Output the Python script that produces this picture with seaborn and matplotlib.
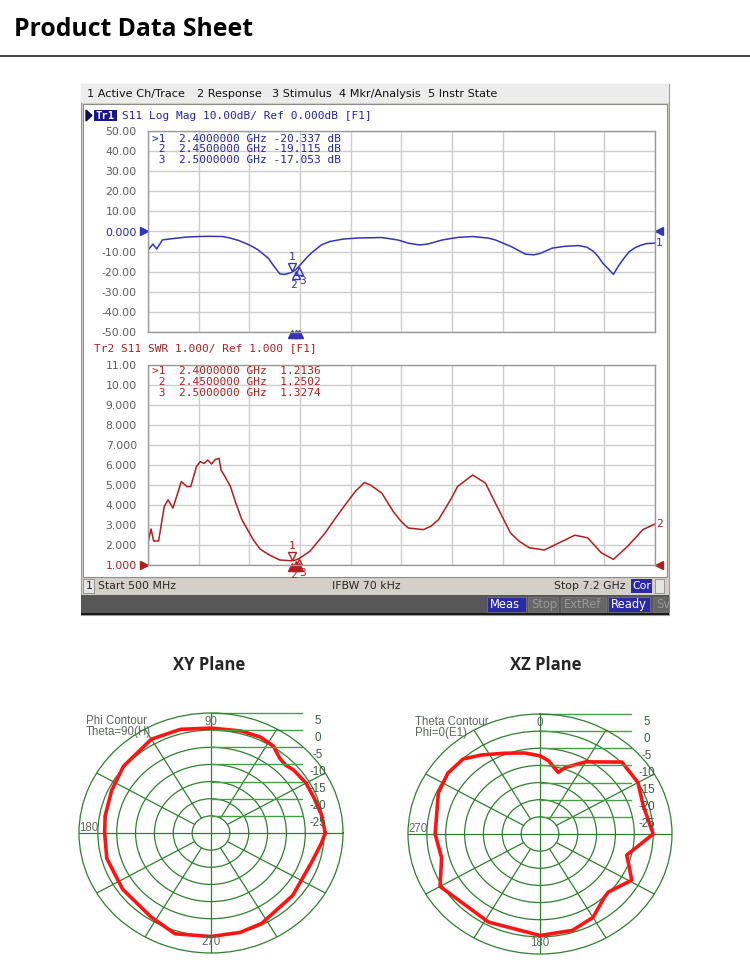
import numpy as np
import seaborn as sns
import matplotlib.pyplot as plt
import matplotlib.transforms as mtransforms
from matplotlib.patches import Rectangle, Polygon

sns.set_theme(style="white")
plt.rcParams['font.family'] = ['Liberation Sans', 'DejaVu Sans']

W, H = 750, 972

# ---- S11 log magnitude trace (GHz, dB) ----
s11_ghz = [0.50, 0.565, 0.615, 0.69, 0.79, 1.00, 1.165, 1.30, 1.49, 1.59, 1.70, 1.84,
           1.95, 2.09, 2.15, 2.24, 2.30, 2.36, 2.40, 2.45, 2.50, 2.59, 2.65, 2.79,
           2.90, 3.09, 3.30, 3.59, 3.80, 3.94, 4.09, 4.20, 4.39, 4.60, 4.79, 5.00,
           5.09, 5.30, 5.49, 5.60, 5.69, 5.84, 6.00, 6.19, 6.30, 6.39, 6.45, 6.51,
           6.58, 6.65, 6.72, 6.79, 6.86, 6.94, 7.00, 7.09, 7.20]
s11_db = [-9.2, -6.3, -8.7, -4.2, -3.7, -2.8, -2.5, -2.4, -2.5, -3.3, -4.5, -6.7,
          -9.0, -13.3, -16.5, -21.0, -21.4, -20.8, -20.3, -19.1, -17.1, -13.3, -11.0,
          -6.7, -5.0, -3.7, -3.2, -3.0, -4.2, -5.8, -6.7, -6.2, -4.2, -2.9, -2.5,
          -3.3, -4.2, -7.5, -11.3, -11.6, -10.8, -8.3, -7.4, -7.0, -7.8, -10.0,
          -12.5, -15.8, -18.5, -21.3, -17.0, -13.3, -10.0, -8.0, -7.0, -6.0, -5.8]

# ---- SWR trace (GHz, ratio) ----
swr_ghz = [0.50, 0.54, 0.575, 0.64, 0.715, 0.765, 0.83, 0.94, 1.015, 1.065, 1.14, 1.19,
           1.24, 1.29, 1.34, 1.39, 1.44, 1.465, 1.52, 1.59, 1.66, 1.74, 1.89, 1.98,
           2.09, 2.24, 2.40, 2.45, 2.50, 2.64, 2.84, 2.96, 3.09, 3.24, 3.36, 3.44,
           3.59, 3.74, 3.84, 3.94, 4.14, 4.24, 4.34, 4.51, 4.59, 4.79, 4.96, 5.09,
           5.29, 5.40, 5.54, 5.74, 5.89, 6.14, 6.31, 6.49, 6.65, 6.84, 7.04, 7.20]
swr_val = [2.11, 2.80, 2.20, 2.20, 3.93, 4.26, 3.85, 5.17, 4.92, 4.92, 5.92, 6.17,
           6.08, 6.25, 6.05, 6.28, 6.33, 5.75, 5.40, 4.92, 4.10, 3.27, 2.27, 1.80,
           1.53, 1.25, 1.21, 1.25, 1.33, 1.69, 2.60, 3.25, 3.93, 4.68, 5.12, 5.00,
           4.59, 3.68, 3.20, 2.85, 2.77, 2.94, 3.27, 4.34, 4.92, 5.50, 5.09, 4.10,
           2.60, 2.20, 1.86, 1.75, 2.03, 2.49, 2.36, 1.61, 1.28, 1.94, 2.77, 3.05]

marker_ghz = [2.40, 2.45, 2.50]
marker_db = [-20.337, -19.115, -17.053]
marker_swr = [1.2136, 1.2502, 1.3274]

s11_ticks = [50, 40, 30, 20, 10, 0, -10, -20, -30, -40, -50]
s11_ticklabels = ["50.00", "40.00", "30.00", "20.00", "10.00", "0.000",
                  "-10.00", "-20.00", "-30.00", "-40.00", "-50.00"]
swr_ticks = [11, 10, 9, 8, 7, 6, 5, 4, 3, 2, 1]
swr_ticklabels = ["11.00", "10.00", "9.000", "8.000", "7.000", "6.000",
                  "5.000", "4.000", "3.000", "2.000", "1.000"]

# ---- radiation patterns (deg, dB) ----
xy_phi = [0, 10, 20, 30, 40, 45, 50, 57, 65, 75, 90, 105, 120, 140, 155, 170, 180,
          195, 215, 237, 252, 270, 285, 297, 320, 342, 354, 360]
xy_db = [0.3, -0.2, -0.8, -0.9, -1.4, -2.0, -1.6, 0.3, 0.9, 0.8, 0.6, 1.3, 1.6, 0.3,
         -0.9, -1.5, -1.8, -1.4, -1.4, -0.8, 0.9, 0.2, 0.0, -0.4, -1.7, -2.0, -0.6, 0.3]
xz_theta = [0, 6, 15, 19, 30, 46, 60, 73, 90, 105, 112, 119, 133, 137, 150, 163, 180,
            208, 240, 255, 270, 294, 306, 317, 326, 338, 350, 360]
xz_db = [-7.2, -8.5, -11.4, -9.5, -5.7, 0.2, 0.0, -1.4, 0.0, -6.2, -4.5, -2.2, -5.2,
         -4.9, -1.9, -0.6, -0.4, -0.9, 0.6, -3.0, -2.2, -0.5, 0.2, -0.1, -2.2, -4.6,
         -6.0, -7.2]
ring_levels = [5, 0, -5, -10, -15, -20, -25]

BLUE = "#3434b4"
BLUE_TXT = "#2424a4"
RED = "#b11e1e"
GRID = "#cdcdcd"
RING = "#2f7f2f"
SCALE = "#45a045"
MONO = "DejaVu Sans Mono"

fig = plt.figure(figsize=(W / 100, H / 100), dpi=100)


def fx(px):
    return px / W


def fy(py):
    return 1 - py / H


def box(x0, y0, x1, y1, z=-5, **kw):
    # window decoration, kept under the axes
    fig.add_artist(Rectangle((fx(x0), fy(y1)), (x1 - x0) / W, (y1 - y0) / H,
                             transform=fig.transFigure, zorder=z, **kw))


def ftext(x, y, s, **kw):
    fig.text(fx(x), fy(y), s, **kw)


# page title
ftext(14, 30, "Product Data Sheet", fontsize=17.8, fontweight="bold",
      family=["Open Sans", "DejaVu Sans"], va="center", color="black")
fig.add_artist(plt.Line2D([0, 1], [fy(56), fy(56)], transform=fig.transFigure,
                          color="#222222", lw=1.2))

# ---- analyzer window frame ----
box(81, 84, 669, 615, facecolor="#d4d0c8", edgecolor="#9a9a9a", lw=0.8, z=-10)
box(81, 84, 669, 103, facecolor="#ececec", edgecolor="none", z=-9)
menu = [(87, "1 Active Ch/Trace"), (197, "2 Response"), (272, "3 Stimulus"),
        (339, "4 Mkr/Analysis"), (428, "5 Instr State")]
for mx, label in menu:
    ftext(mx, 94, label, fontsize=8.1, va="center", color="#111111",
          family=["DejaVu Sans"])
box(83, 104, 667, 577, facecolor="white", edgecolor="#8c8c8c", lw=0.8, z=-9)

# status bar
box(83, 579, 94, 593, facecolor="#e4e4e4", edgecolor="#8c8c8c", lw=0.6)
ftext(86, 586, "1", fontsize=7.8, va="center", family=["DejaVu Sans"])
ftext(98, 586, "Start 500 MHz", fontsize=7.8, va="center", family=["DejaVu Sans"])
ftext(332, 586, "IFBW 70 kHz", fontsize=7.8, va="center", family=["DejaVu Sans"])
ftext(626, 586, "Stop 7.2 GHz", fontsize=7.8, va="center", ha="right",
      family=["DejaVu Sans"])
box(631, 579, 652, 593, facecolor="#2a2aa8", edgecolor="none")
ftext(641.5, 586, "Cor", fontsize=7.8, va="center", ha="center", color="white",
      family=["DejaVu Sans"])
box(655, 579, 664, 593, facecolor="#e4e4e4", edgecolor="#8c8c8c", lw=0.6)

# lower dark bar
box(81, 595, 669, 613, facecolor="#575757", edgecolor="none")
box(81, 613, 669, 615, facecolor="#1a1a1a", edgecolor="none")
buttons = [(487, 526, "Meas", True), (528, 558, "Stop", False),
           (561, 606, "ExtRef", False), (608, 650, "Ready", True), (653, 669, "Sv", False)]
for bx0, bx1, label, on in buttons:
    box(bx0, 597, bx1, 612, facecolor="#2a2aa8" if on else "#666666",
        edgecolor="#7a7a7a", lw=0.5, z=-4)
    ftext(bx0 + 3, 604.5, label, fontsize=8.3, va="center",
          color="white" if on else "#999999", family=["DejaVu Sans"])

# trace headers
fig.add_artist(Polygon([[fx(86), fy(110)], [fx(86), fy(121)], [fx(92), fy(115.5)]],
                       closed=True, transform=fig.transFigure, color="#101050"))
box(94, 110, 117, 121, facecolor="#16168a", edgecolor="none")
ftext(105.5, 115.8, "Tr1", fontsize=7.6, va="center", ha="center", color="white",
      fontweight="bold", family=[MONO])
ftext(122, 116, "S11 Log Mag 10.00dB/ Ref 0.000dB [F1]", fontsize=8, va="center",
      color=BLUE_TXT, family=[MONO])
ftext(94, 348, "Tr2 S11 SWR 1.000/ Ref 1.000 [F1]", fontsize=8, va="center",
      color=RED, family=[MONO])

vgrid = [0.5 + 0.67 * i for i in range(11)]


def vna_axes(top, bottom, ylim, ticks, ticklabels, ref_index, color):
    ax = fig.add_axes([fx(148), fy(bottom), 507 / W, (bottom - top) / H])
    ax.set_xlim(0.5, 7.2)
    ax.set_ylim(*ylim)
    ax.set_xticks(vgrid)
    ax.set_xticklabels([])
    ax.set_yticks(ticks)
    ax.set_yticklabels(ticklabels, family=["DejaVu Sans"], fontsize=7.8)
    ax.tick_params(length=0, pad=8, colors="#5c5c5c")
    for i, lab in enumerate(ax.get_yticklabels()):
        if i == ref_index:
            lab.set_color(color)
    ax.grid(True, color=GRID, lw=1)
    for sp in ax.spines.values():
        sp.set_color("#9a9a9a")
        sp.set_linewidth(1)
    return ax


def offset(trans, dx=0, dy=0):
    return mtransforms.offset_copy(trans, fig=fig, x=dx, y=dy, units="dots")


def decorate(ax, values, ref_val, end_val, end_label, color):
    # marker 1 above the trace, markers 2 and 3 below it
    ax.plot(marker_ghz[0], values[0], marker="v", ms=6, mfc="none", mec=color,
            mew=1, transform=offset(ax.transData, 0, 5))
    ax.text(marker_ghz[0], values[0], "1", color=color, fontsize=8, ha="center",
            va="center", family=[MONO], transform=offset(ax.transData, 0, 15))
    for gx, val, lab, dx in zip(marker_ghz[1:], values[1:], ["2", "3"], [-2, 3]):
        ax.plot(gx, val, marker="^", ms=6, mfc="none", mec=color, mew=1,
                transform=offset(ax.transData, 0, -5))
        ax.text(gx, val, lab, color=color, fontsize=8, ha="center", va="center",
                family=[MONO], transform=offset(ax.transData, dx, -15))
    ax.plot(marker_ghz, [0, 0, 0], ls="none", marker="^", ms=6, color=color,
            transform=offset(ax.get_xaxis_transform(), 0, -2), clip_on=False)
    ax.plot([0], [ref_val], marker=">", ms=6, color=color, clip_on=False,
            transform=offset(ax.get_yaxis_transform(), -4, 0))
    ax.plot([1], [ref_val], marker="<", ms=6, color=color, clip_on=False,
            transform=offset(ax.get_yaxis_transform(), 4, 0))
    ax.text(1, end_val, end_label, color=color, fontsize=8, va="center",
            family=[MONO], transform=offset(ax.get_yaxis_transform(), 1, 0))


# ---- S11 log mag ----
ax1 = vna_axes(131, 332, (-50, 50), s11_ticks, s11_ticklabels, 5, BLUE_TXT)
sns.lineplot(x=s11_ghz, y=s11_db, ax=ax1, color=BLUE, lw=1.1, sort=False,
             estimator=None)
ax1.set_xlim(0.5, 7.2)
ax1.set_ylim(-50, 50)
decorate(ax1, marker_db, 0, s11_db[-1], "1", BLUE)
for i, (g, v) in enumerate(zip(marker_ghz, marker_db)):
    pre = ">1" if i == 0 else f" {i + 1}"
    ax1.text(0.008, 0.962 - i * 0.053, f"{pre}  {g:.7f} GHz {v:.3f} dB",
             transform=ax1.transAxes, fontsize=8, family=[MONO], color=BLUE_TXT,
             va="center")

# ---- SWR ----
ax2 = vna_axes(365, 565, (1, 11), swr_ticks, swr_ticklabels, 10, RED)
sns.lineplot(x=swr_ghz, y=swr_val, ax=ax2, color=RED, lw=1.1, sort=False,
             estimator=None)
ax2.set_xlim(0.5, 7.2)
ax2.set_ylim(1, 11)
decorate(ax2, marker_swr, 1, swr_val[-1], "2", RED)
for i, (g, v) in enumerate(zip(marker_ghz, marker_swr)):
    pre = ">1" if i == 0 else f" {i + 1}"
    ax2.text(0.008, 0.972 - i * 0.055, f"{pre}  {g:.7f} GHz  {v:.4f}",
             transform=ax2.transAxes, fontsize=8, family=[MONO], color=RED,
             va="center")


# ---- radiation patterns ----
def polar_panel(cx, cy, ang, db, zero, direction, note, angle_labels):
    rx, ry = 132, 120
    ax = fig.add_axes([fx(cx - rx), fy(cy + ry), 2 * rx / W, 2 * ry / H],
                      projection="polar")
    ax.set_theta_zero_location(zero)
    ax.set_theta_direction(direction)
    ax.set_facecolor("white")
    for a in range(0, 360, 30):
        r0 = -30 if a % 90 == 0 else -25
        ax.plot(np.radians([a, a]), [r0, 5], color=RING, lw=0.9)
    sns.lineplot(x=np.radians(ang), y=db, ax=ax, color="#ff1414", lw=2.6,
                 sort=False, estimator=None)
    ax.set_aspect("auto")
    ax.set_ylim(-30, 5)
    ax.set_yticks(ring_levels[1:])
    ax.set_yticklabels([])
    ax.set_xticks([])
    ax.yaxis.grid(True, color=RING, lw=0.9)
    ax.spines["polar"].set_color(RING)
    ax.spines["polar"].set_linewidth(0.9)
    ax.set_xlabel("")
    ax.set_ylabel("")
    for lvl in ring_levels:
        yy = 0.5 + 0.5 * (lvl + 30) / 35
        ax.plot([0.5, 0.845], [yy, yy], transform=ax.transAxes, color=SCALE,
                lw=1, clip_on=False)
        ax.text(0.905, yy - 7.5 / (2 * ry), str(lvl), transform=ax.transAxes,
                ha="center", va="center", fontsize=8.3, color="#3e5a3e")
    ftext(cx - 125, cy - 112, note[0], fontsize=8.3, color="#5f665f", va="center")
    ftext(cx - 125, cy - 101, note[1], fontsize=8.3, color="#5f665f", va="center")
    for (px, py), lab in zip([(cx, cy - 111), (cx - 122, cy - 5), (cx, cy + 109)],
                             angle_labels):
        ftext(px, py, lab, fontsize=8.3, color="#5f665f", va="center", ha="center")
    return ax


ftext(209, 665, "XY Plane", fontsize=12, fontweight="bold", ha="center",
      va="center", family=["Open Sans", "DejaVu Sans"])
ftext(546, 665, "XZ Plane", fontsize=12, fontweight="bold", ha="center",
      va="center", family=["Open Sans", "DejaVu Sans"])

polar_panel(211, 833, xy_phi, xy_db, "E", 1, ["Phi Contour", "Theta=90(H)"],
            ["90", "180", "270"])
polar_panel(540, 834, xz_theta, xz_db, "N", -1, ["Theta Contour", "Phi=0(E1)"],
            ["0", "270", "180"])

plt.savefig("out.png", dpi=100)
plt.close()
